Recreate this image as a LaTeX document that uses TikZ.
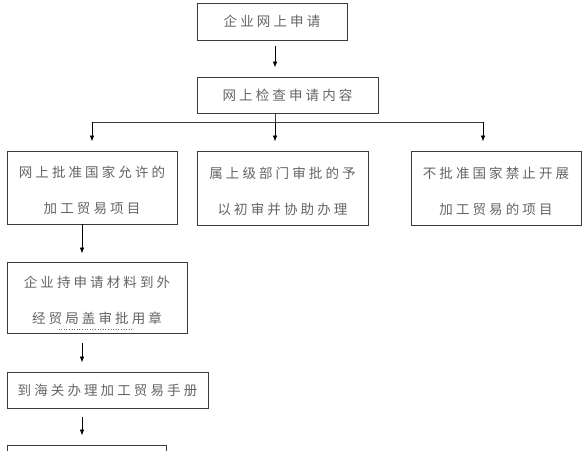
\documentclass[tikz,border=0pt]{standalone}
\usepackage{fontspec}
\usepackage{xcolor}
\usetikzlibrary{calc,arrows.meta}
\newfontfamily\cjk{Noto Sans CJK SC}[LetterSpace=23]
\definecolor{boxLine}{RGB}{60,60,60}
\definecolor{boxText}{RGB}{100,100,100}
\definecolor{checkGreen}{RGB}{60,150,60}
\newcommand{\FlowText}{\cjk\fontsize{13.5}{36}\selectfont}
\newcommand{\TopGap}{\rule{0pt}{17.5pt}}
\tikzset{
  stepbox/.style={draw=boxLine,line width=0.9pt,text=boxText,font=\FlowText,align=center,inner sep=0pt},
  flowarrow/.style={draw=black,line width=0.8pt,-{Latex[length=6pt,width=4.5pt]}}
}
\begin{document}
\begin{tikzpicture}[x=1pt,y=-1pt]
\useasboundingbox (0,0) rectangle (585,450);
\clip (0,0) rectangle (585,450);
\node[stepbox,minimum width=150pt,minimum height=37pt] (apply) at (272,21.5) {企业网上申请};
\node[stepbox,minimum width=181pt,minimum height=36pt] (check) at (287.5,95) {网上检查申请内容};
\node[stepbox,minimum width=170pt,minimum height=73pt] (allow) at (92,187.5) {\TopGap 网上批准国家允许的\\加工贸易项目};
\node[stepbox,minimum width=171pt,minimum height=74pt] (upper) at (282.5,188) {\TopGap 属上级部门审批的予\\以初审并协助办理};
\node[stepbox,minimum width=170pt,minimum height=74pt] (forbid) at (496,188) {\TopGap 不批准国家禁止开展\\加工贸易的项目};
\node[stepbox,minimum width=180pt,minimum height=71pt] (stamp) at (97,297.5) {\TopGap 企业持申请材料到外\\经贸局盖审批用章};
\node[stepbox,minimum width=201pt,minimum height=36pt] (manual) at (107.5,390) {到海关办理加工贸易手册};
\node[stepbox,minimum width=159pt,minimum height=36pt] (next) at (86.5,463) {};
\coordinate (trunk) at (275,122);
\coordinate (busend) at (483,122);
\coordinate (spine) at (82,0);
\draw[flowarrow] ([yshift=-6pt]apply.south -| trunk) -- ([yshift=9pt]check.north -| trunk);
\draw[boxLine,line width=0.8pt] (check.south -| trunk) -- (trunk);
\draw[boxLine,line width=0.8pt] (allow.north |- trunk) -- (busend);
\draw[flowarrow] (allow.north |- trunk) -- ([yshift=9pt]allow.north);
\draw[flowarrow] (trunk) -- ([yshift=9pt]upper.north -| trunk);
\draw[flowarrow] (busend) -- ([yshift=9pt]forbid.north -| busend);
\draw[flowarrow] (allow.south -| spine) -- ([yshift=8pt]stamp.north -| spine);
\draw[flowarrow] ([yshift=-10pt]stamp.south -| spine) -- ([yshift=9pt]manual.north -| spine);
\draw[flowarrow] ([yshift=-9pt]manual.south -| spine) -- ([yshift=9pt]next.north -| spine);
\draw[checkGreen,line width=0.6pt,dotted] ($(stamp.south west)+(52,-4)$) -- ($(stamp.south west)+(125,-4)$);
\end{tikzpicture}
\end{document}
